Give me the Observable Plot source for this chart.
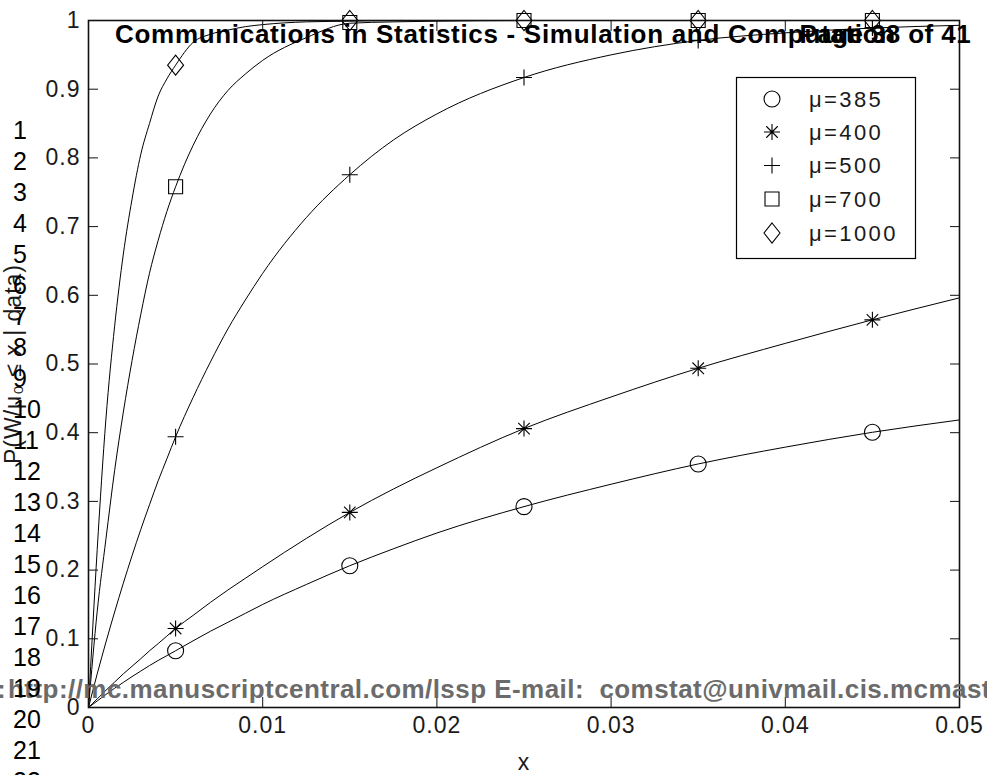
<!DOCTYPE html>
<html><head><meta charset="utf-8">
<script src="https://cdn.jsdelivr.net/npm/d3@7"></script>
<script src="https://cdn.jsdelivr.net/npm/@observablehq/plot@0.6"></script>
<style>
html,body{margin:0;padding:0;background:#fff;}
#wrap{position:relative;width:987px;height:775px;overflow:hidden;background:#fff;}
#wrap svg{position:absolute;left:0;top:0;}
</style></head><body><div id="wrap"></div>
<script>
// ---- data ----
const xGrid = [0, 0.0005, 0.001, 0.0015, 0.002, 0.0025, 0.003, 0.0035, 0.004, 0.0045, 0.005, 0.006, 0.007, 0.008, 0.009, 0.01, 0.0125, 0.015, 0.0175, 0.02, 0.025, 0.03, 0.035, 0.04, 0.045, 0.05];
const curve385  = [0, 0.0095, 0.019, 0.028, 0.0365, 0.045, 0.053, 0.061, 0.0685, 0.0755, 0.0826, 0.097, 0.111, 0.124, 0.137, 0.150, 0.179, 0.2064, 0.231, 0.254, 0.2924, 0.325, 0.3545, 0.379, 0.4006, 0.4186];
const curve400  = [0, 0.0125, 0.025, 0.037, 0.049, 0.060, 0.071, 0.0825, 0.093, 0.104, 0.115, 0.134, 0.153, 0.171, 0.188, 0.205, 0.246, 0.284, 0.318, 0.349, 0.406, 0.452, 0.4938, 0.530, 0.5643, 0.5963];
const curve500  = [0, 0.049, 0.095, 0.139, 0.181, 0.221, 0.259, 0.295, 0.330, 0.362, 0.394, 0.451, 0.503, 0.551, 0.593, 0.632, 0.713, 0.7755, 0.826, 0.864, 0.917, 0.950, 0.971, 0.982, 0.989, 0.993];
const curve700  = [0, 0.14, 0.245, 0.345, 0.43, 0.505, 0.572, 0.632, 0.68, 0.722, 0.758, 0.818, 0.864, 0.898, 0.922, 0.942, 0.975, 0.996, 0.998, 0.999, 1, 1, 1, 1, 1, 1];
const curve1000 = [0, 0.23, 0.42, 0.555, 0.66, 0.74, 0.805, 0.85, 0.89, 0.915, 0.935, 0.968, 0.98, 0.986, 0.991, 0.994, 0.998, 0.999, 1, 1, 1, 1, 1, 1, 1, 1];

const markerX    = [0.005, 0.015, 0.025, 0.035, 0.045];
const marks385   = [0.0826, 0.2064, 0.2924, 0.3545, 0.4006];
const marks400   = [0.115, 0.284, 0.406, 0.4938, 0.5643];
const marks500   = [0.394, 0.7755, 0.917, 0.971, 0.989];
const marks700   = [0.758, 0.997, 1, 1, 1];
const marks1000  = [0.935, 1, 1, 1, 1];

const seriesLabels = ["\u03bc=385", "\u03bc=400", "\u03bc=500", "\u03bc=700", "\u03bc=1000"];
const xTicks = [0, 0.01, 0.02, 0.03, 0.04, 0.05];
const xTickLabels = ["0", "0.01", "0.02", "0.03", "0.04", "0.05"];
const yTicks = [0, 0.1, 0.2, 0.3, 0.4, 0.5, 0.6, 0.7, 0.8, 0.9, 1];
const yTickLabels = ["0", "0.1", "0.2", "0.3", "0.4", "0.5", "0.6", "0.7", "0.8", "0.9", "1"];
const xLabel = "x";
const yLabel = "P(W/\u03bc\u2080 \u2264 x | data)";
const titleText = "Communications in Statistics - Simulation and Computation";
const pageText = "Page 38 of 41";
const urlPrefix = "URL:";
const urlText = "http://mc.manuscriptcentral.com/lssp E-mail:  comstat@univmail.cis.mcmaster.ca";
const lineNumbers = [1,2,3,4,5,6,7,8,9,10,11,12,13,14,15,16,17,18,19,20,21,22];

// ---- marker shapes (MATLAB-like) ----
const rad = s => Math.sqrt(s / Math.PI);
const symCircle = {draw(c, s){ const r = rad(s); c.moveTo(r, 0); c.arc(0, 0, r, 0, 2*Math.PI); c.closePath(); }};
const symAsterisk = {draw(c, s){ const r = rad(s), d = r*0.72;
  c.moveTo(-r,0); c.lineTo(r,0); c.moveTo(0,-r); c.lineTo(0,r);
  c.moveTo(-d,-d); c.lineTo(d,d); c.moveTo(-d,d); c.lineTo(d,-d); }};
const symPlus = {draw(c, s){ const r = rad(s); c.moveTo(-r,0); c.lineTo(r,0); c.moveTo(0,-r); c.lineTo(0,r); }};
const symSquare = {draw(c, s){ const h = rad(s)*0.875; c.moveTo(-h,-h); c.lineTo(h,-h); c.lineTo(h,h); c.lineTo(-h,h); c.closePath(); }};
const symDiamond = {draw(c, s){ const w = rad(s), h = rad(s)*1.25; c.moveTo(0,-h); c.lineTo(w,0); c.lineTo(0,h); c.lineTo(-w,0); c.closePath(); }};

const curves = [curve385, curve400, curve500, curve700, curve1000];
const markVals = [marks385, marks400, marks500, marks700, marks1000];
const symbols = [symCircle, symAsterisk, symPlus, symSquare, symDiamond];

const lineRows = [];
curves.forEach((ys, i) => xGrid.forEach((x, j) => lineRows.push({series: seriesLabels[i], x, y: ys[j]})));

const W = 987, H = 775;
const mL = 88, mR = 28, mT = 20, mB = 68;
const FONT = "'Liberation Sans', Arial, sans-serif";

const marks = [];
marks.push(Plot.line(lineRows, {x: "x", y: "y", z: "series", stroke: "#000", strokeWidth: 1, curve: "monotone-x"}));
markVals.forEach((vals, i) => {
  const pts = markerX.map((x, j) => ({x, y: vals[j]}));
  marks.push(Plot.dot(pts, {x: "x", y: "y", r: 8, symbol: symbols[i], stroke: "#000", strokeWidth: 1.1, fill: "none"}));
});
// inward ticks on all four sides
marks.push(Plot.axisX({anchor: "bottom", ticks: xTicks, tickSize: 10, dy: -10, text: null, label: null, stroke: "#111"}));
marks.push(Plot.axisX({anchor: "top", ticks: xTicks, tickSize: 10, dy: 10, text: null, label: null, stroke: "#111"}));
marks.push(Plot.axisY({anchor: "left", ticks: yTicks, tickSize: 10, dx: 10, text: null, label: null, stroke: "#111"}));
marks.push(Plot.axisY({anchor: "right", ticks: yTicks, tickSize: 10, dx: -10, text: null, label: null, stroke: "#111"}));
// tick labels + axis titles
marks.push(Plot.axisX({anchor: "bottom", ticks: xTicks, tickSize: 0, tickPadding: 9,
  tickFormat: d => xTickLabels[xTicks.indexOf(d)], label: xLabel, labelAnchor: "center", labelArrow: "none", labelOffset: 62,
  fontSize: 23, fill: "#1a1a1a"}));
marks.push(Plot.axisY({anchor: "left", ticks: yTicks, tickSize: 0, tickPadding: 8,
  tickFormat: d => yTickLabels[yTicks.indexOf(d)], label: yLabel, labelAnchor: "center", labelArrow: "none", labelOffset: 84,
  fontSize: 23, fill: "#1a1a1a"}));
marks.push(Plot.frame({stroke: "#111", strokeWidth: 1.6}));

const chart = Plot.plot({
  width: W, height: H, marginLeft: mL, marginRight: mR, marginTop: mT, marginBottom: mB,
  x: {domain: [0, 0.05], axis: null},
  y: {domain: [0, 1], axis: null},
  style: {fontFamily: FONT, fontSize: "23px", color: "#1a1a1a", background: "#fff", letterSpacing: "1px"},
  marks
});
document.getElementById("wrap").appendChild(chart);

// ---- overlay: legend, page header, line numbers, watermark ----
const ov = d3.select("#wrap").append("svg").attr("width", W).attr("height", H)
  .style("pointer-events", "none").style("font-family", FONT);

// legend
const lg = ov.append("g");
lg.append("rect").attr("x", 736.5).attr("y", 77.5).attr("width", 179).attr("height", 181)
  .attr("fill", "#fff").attr("stroke", "#000").attr("stroke-width", 1.2);
const rowY = [99, 132, 165.5, 199, 233];
seriesLabels.forEach((lab, i) => {
  lg.append("path").attr("d", d3.symbol(symbols[i], Math.PI*64)())
    .attr("transform", `translate(772,${rowY[i]})`).attr("fill", "none").attr("stroke", "#000").attr("stroke-width", 1.1);
  lg.append("text").attr("x", 809).attr("y", rowY[i]).attr("dy", "0.35em")
    .attr("font-size", 22).attr("letter-spacing", "2.4px").attr("fill", "#1a1a1a").text(lab);
});

// header
ov.append("text").attr("x", 115).attr("y", 43).attr("font-size", 26).attr("font-weight", "bold")
  .attr("letter-spacing", "0.7px").attr("fill", "#000").text(titleText);
ov.append("text").attr("x", 971).attr("y", 43).attr("text-anchor", "end").attr("font-size", 26).attr("font-weight", "bold")
  .attr("letter-spacing", "0.4px").attr("fill", "#000").text(pageText);

// watermark
ov.append("text").attr("x", 6).attr("y", 698).attr("text-anchor", "end").attr("font-size", 26).attr("font-weight", "bold")
  .attr("letter-spacing", "0.45px").attr("fill", "#6b6b6b").text(urlPrefix);
ov.append("text").attr("x", 8).attr("y", 698).attr("font-size", 26).attr("font-weight", "bold")
  .attr("letter-spacing", "0.45px").attr("fill", "#6b6b6b").style("white-space", "pre").text(urlText);

// line numbers
lineNumbers.forEach((n, i) => {
  ov.append("text").attr("x", 13).attr("y", 130 + i*31).attr("dy", "0.36em").attr("font-size", 25)
    .attr("fill", "#000").text(String(n));
});
</script></body></html>
